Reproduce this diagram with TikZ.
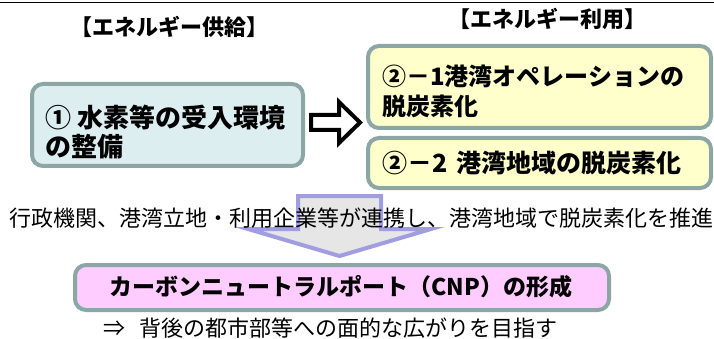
\documentclass[tikz,border=0pt]{standalone}
\usepackage{fontspec}
\setmainfont{Noto Sans CJK JP}
\newfontfamily\jp{Noto Sans CJK JP}
\definecolor{bordc}{HTML}{8CA5A5}
\definecolor{cyanfill}{HTML}{DDEEF0}
\definecolor{yelfill}{HTML}{FFFFCC}
\definecolor{pinkfill}{HTML}{FFCCFF}
\definecolor{lavc}{HTML}{A09DE0}
\definecolor{grayfill}{HTML}{E6E6E6}
\tikzset{
  rbox/.style={draw=bordc, line width=4pt, rounded corners=11pt},
  boxtxt/.style={anchor=west, align=left, inner sep=0pt, font=\jp\bfseries\fontsize{24}{30}\selectfont},
  plain/.style={inner sep=0pt, font=\jp\fontsize{22}{25}\selectfont},
  ttl/.style={inner sep=0pt, font=\jp\bfseries\fontsize{22}{25}\selectfont}
}
\begin{document}
\begin{tikzpicture}[x=1pt,y=-1pt]
\useasboundingbox (0,0) rectangle (714,339);
\draw[line width=1.6pt] (0,2.5) -- (714,2.5);
% titles
\node[ttl] (t1) at (169,27) {【エネルギー供給】};
\node[ttl] (t2) at (547,18.5) {【エネルギー利用】};
% down arrow (behind text)
\draw[draw=lavc, fill=grayfill, line width=4pt, line join=miter]
  (298,196) -- (381,196) -- (381,229) -- (431,229) -- (339.5,256) -- (248,229) -- (298,229) -- cycle;
% boxes
\draw[rbox, fill=cyanfill] (32,84) rectangle (303,166);
\draw[rbox, fill=yelfill] (368,46) rectangle (711,128);
\draw[rbox, fill=yelfill] (368,138) rectangle (711,188);
\draw[rbox, fill=pinkfill] (75,265) rectangle (609,310);
\node[boxtxt, font=\jp\bfseries\fontsize{26}{29}\selectfont] (b1) at (45,132.5) {① 水素等の受入環境\\の整備};
\node[boxtxt] (b21) at (382,91.5) {②－1港湾オペレーションの\\脱炭素化};
\node[boxtxt, font=\jp\bfseries\fontsize{25}{30}\selectfont] (b22) at (382,163) {②－2\hspace{0.35em}港湾地域の脱炭素化};
\node[anchor=center, inner sep=0pt, font=\jp\bfseries\fontsize{23}{27}\selectfont] (cnp) at (341,287) {カーボンニュートラルポート（CNP）の形成};
% right block arrow
\draw[line width=4pt, fill=white, line join=miter]
  (311,115) -- (339,115) -- (339,102) -- (360,122.5) -- (339,143) -- (339,130) -- (311,130) -- cycle;
% texts
\node[plain] (mid) at (361.5,218) {行政機関、港湾立地・利用企業等が連携し、港湾地域で脱炭素化を推進};
\node[plain, anchor=base west, text height=17pt, text depth=2.5pt] (bot) at (103,336) {⇒\ \ \ 背後の都市部等への面的な広がりを目指す};
\end{tikzpicture}
\end{document}
